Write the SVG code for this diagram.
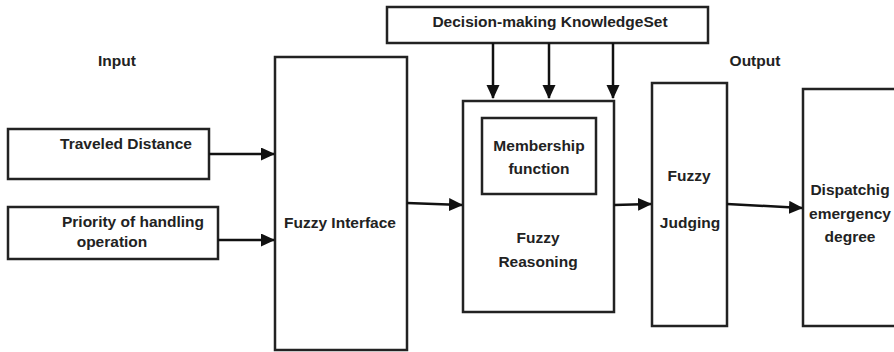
<svg xmlns="http://www.w3.org/2000/svg" width="894" height="352" viewBox="0 0 894 352">
<defs>
<marker id="ah" markerWidth="14" markerHeight="14" refX="13" refY="6.5" orient="auto" markerUnits="userSpaceOnUse">
<path d="M0,0 L14,6.5 L0,13 Z" fill="#111"/>
</marker>
<style>
.box{fill:#fff;stroke:#222;stroke-width:2.5}
.t{font-family:"Liberation Sans",Arial,sans-serif;font-size:15.5px;font-weight:bold;fill:#222;text-anchor:middle}
.c{fill:none;stroke:#111;stroke-width:2.5;marker-end:url(#ah)}
</style>
</defs>
<rect width="894" height="352" fill="#fff"/>
<text class="t" x="117" y="66">Input</text>
<text class="t" x="755" y="66">Output</text>
<g id="knowledge">
<rect class="box" x="387" y="7" width="321" height="36"/>
<text class="t" x="550" y="27">Decision-making KnowledgeSet</text>
</g>
<g id="traveled">
<rect class="box" x="8" y="129" width="201" height="50"/>
<text class="t" x="126" y="149">Traveled Distance</text>
</g>
<g id="priority">
<rect class="box" x="8" y="207" width="210" height="52"/>
<text class="t" x="133" y="227">Priority of handling</text>
<text class="t" x="112" y="247">operation</text>
</g>
<g id="interface">
<rect class="box" x="275" y="57" width="132" height="293"/>
<text class="t" x="340" y="228">Fuzzy Interface</text>
</g>
<g id="reasoning">
<rect class="box" x="463" y="101" width="151" height="211"/>
<rect class="box" x="482" y="118" width="114" height="76"/>
<text class="t" x="539" y="151">Membership</text>
<text class="t" x="539" y="174">function</text>
<text class="t" x="538" y="243">Fuzzy</text>
<text class="t" x="538" y="267">Reasoning</text>
</g>
<g id="judging">
<rect class="box" x="652" y="83" width="75" height="243"/>
<text class="t" x="689" y="181">Fuzzy</text>
<text class="t" x="690" y="228">Judging</text>
</g>
<g id="output">
<rect class="box" x="803" y="89" width="100" height="237"/>
<text class="t" x="850" y="195">Dispatchig</text>
<text class="t" x="850" y="219">emergency</text>
<text class="t" x="850" y="242">degree</text>
</g>
<g id="connectors">
<line class="c" x1="493" y1="43" x2="493" y2="98"/>
<line class="c" x1="549" y1="43" x2="549" y2="98"/>
<line class="c" x1="613" y1="43" x2="613" y2="98"/>
<line class="c" x1="209" y1="154" x2="274" y2="154"/>
<line class="c" x1="218" y1="240" x2="274" y2="240"/>
<line class="c" x1="407" y1="203" x2="462" y2="205"/>
<line class="c" x1="614" y1="205" x2="651" y2="204"/>
<line class="c" x1="727" y1="204" x2="802" y2="208"/>
</g>
</svg>
